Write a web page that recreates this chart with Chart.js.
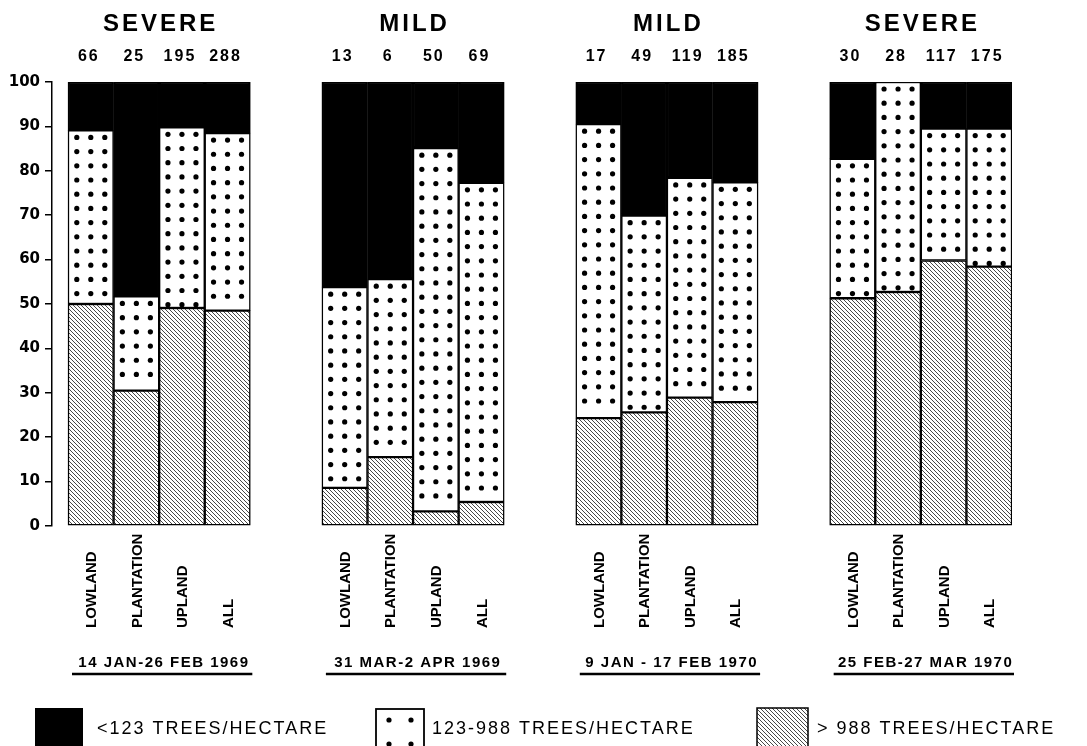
<!DOCTYPE html>
<html>
<head>
<meta charset="utf-8">
<script src="https://cdn.jsdelivr.net/npm/chart.js@4"></script>
<style>
  body { margin: 0; background: #fff; }
  #wrap { width: 1087px; height: 746px; position: relative; }
</style>
</head>
<body>
<div id="wrap"><canvas id="chart"></canvas></div>
<script>
// Data: percent of trees per density class
const categories = ['LOWLAND', 'PLANTATION', 'UPLAND', 'ALL'];
const severity = ['SEVERE', 'MILD', 'MILD', 'SEVERE'];
const periods = ['14 JAN-26 FEB 1969', '31 MAR-2 APR 1969', '9 JAN - 17 FEB 1970', '25 FEB-27 MAR 1970'];
const sampleSizes = [66, 25, 195, 288, 13, 6, 50, 69, 17, 49, 119, 185, 30, 28, 117, 175];

// > 988 trees/hectare (hatched)
const dense = [50.0, 30.5, 49.1, 48.5, 8.6, 15.5, 3.3, 5.4, 24.3, 25.6, 28.9, 27.9, 51.3, 52.7, 59.8, 58.4];
// 123-988 trees/hectare (dotted)
const medium = [39.1, 21.2, 40.7, 40.0, 45.2, 40.1, 81.8, 71.9, 66.2, 44.3, 49.5, 49.5, 31.4, 47.3, 29.7, 31.1];
// < 123 trees/hectare (black)
const sparse = [10.9, 48.3, 10.2, 11.5, 46.2, 44.4, 14.9, 22.7, 9.5, 30.1, 21.6, 22.6, 17.3, 0, 10.5, 10.5];

const legendLabels = ['<123 TREES/HECTARE', '123-988 TREES/HECTARE', '> 988 TREES/HECTARE'];
const yMax = 100;
const yStep = 10;

const GROUP_STEP = 5.57; // distance between group starts, in bar widths
const xOf = k => Math.floor(k / 4) * GROUP_STEP + (k % 4);

function hatchPattern(ctx) {
    const c = document.createElement('canvas');
    c.width = c.height = 4;
    const g = c.getContext('2d');
    g.fillStyle = '#fff';
    g.fillRect(0, 0, 4, 4);
    g.strokeStyle = '#333';
    g.lineWidth = 0.9;
    g.beginPath();
    g.moveTo(-1, -1); g.lineTo(5, 5);
    g.moveTo(-1, 3); g.lineTo(1, 5);
    g.moveTo(3, -1); g.lineTo(5, 1);
    g.stroke();
    return ctx.createPattern(c, 'repeat');
}

const canvas = document.getElementById('chart');
const ctx = canvas.getContext('2d');
const hatch = hatchPattern(ctx);

function drawDots(g, x, top, bottom, cols, step) {
    g.fillStyle = '#000';
    for (let r = top + 7; r < bottom - 3; r += step) {
        cols.forEach(dx => {
            g.beginPath();
            g.arc(x + dx, r, 2.6, 0, Math.PI * 2);
            g.fill();
        });
    }
}

const dotsPlugin = {
    id: 'dots',
    afterDatasetsDraw(chart) {
        const g = chart.ctx;
        g.save();
        chart.getDatasetMeta(1).data.forEach(bar => {
            const p = bar.getProps(['x', 'y', 'base'], true);
            drawDots(g, p.x, p.y, p.base, [-14, 0, 14], 14.2);
        });
        g.restore();
    }
};

function spaced(g, text, x, y, spacing) {
    if ('letterSpacing' in g) {
        g.letterSpacing = spacing + 'px';
        const shift = g.textAlign === 'center' ? spacing / 2 : 0;
        g.fillText(text, x + shift, y);
        g.letterSpacing = '0px';
    } else {
        g.fillText(text, x, y);
    }
}

const textPlugin = {
    id: 'texts',
    afterDraw(chart) {
        const g = chart.ctx;
        const xs = chart.scales.x;
        const area = chart.chartArea;
        g.save();
        g.fillStyle = '#000';
        g.strokeStyle = '#000';

        severity.forEach((s, gi) => {
            const left = xs.getPixelForValue(gi * GROUP_STEP - 0.5);
            const right = xs.getPixelForValue(gi * GROUP_STEP + 3.5);
            const mid = (left + right) / 2;

            g.font = 'bold 24px "Liberation Sans", Arial, sans-serif';
            g.textAlign = 'center';
            g.textBaseline = 'middle';
            spaced(g, s, mid, area.top - 58, 3);

            // period label with underline
            g.font = 'bold 15px "Liberation Sans", Arial, sans-serif';
            g.textBaseline = 'alphabetic';
            spaced(g, periods[gi], mid + 4, area.bottom + 141, 1.5);
            g.lineWidth = 2.5;
            g.beginPath();
            g.moveTo(left + 4, area.bottom + 148);
            g.lineTo(right + 2, area.bottom + 148);
            g.stroke();
        });

        sampleSizes.forEach((n, k) => {
            const px = xs.getPixelForValue(xOf(k));
            g.font = 'bold 16px "Liberation Sans", Arial, sans-serif';
            g.textAlign = 'center';
            g.textBaseline = 'middle';
            spaced(g, String(n), px - 3, area.top - 25, 2);

            // rotated category label, bottom aligned
            g.save();
            g.translate(px + 1, area.bottom + 102);
            g.rotate(-Math.PI / 2);
            g.textAlign = 'left';
            g.textBaseline = 'middle';
            g.font = 'bold 15px "Liberation Sans", Arial, sans-serif';
            g.fillText(categories[k % 4], 0, 0);
            g.restore();
        });

        // legend
        const ly = 708;
        g.fillRect(35, ly, 48, 40);
        g.lineWidth = 1.8;
        g.strokeRect(376, ly + 1, 48, 40);
        drawDots(g, 400, ly + 5, ly + 48, [-11, 11], 24);
        g.fillStyle = hatch;
        g.fillRect(757, ly, 51, 40);
        g.fillStyle = '#000';
        g.lineWidth = 1.5;
        g.beginPath();
        g.moveTo(757, ly + 40); g.lineTo(757, ly); g.lineTo(808, ly); g.lineTo(808, ly + 40);
        g.stroke();

        g.font = '18px "Liberation Sans", Arial, sans-serif';
        g.textAlign = 'left';
        g.textBaseline = 'middle';
        spaced(g, legendLabels[0], 97, 729, 2);
        spaced(g, legendLabels[1], 432, 729, 2);
        spaced(g, legendLabels[2], 817, 729, 2);
        g.restore();
    }
};

const toPoints = arr => arr.map((v, k) => ({ x: xOf(k), y: v }));

new Chart(canvas, {
    type: 'bar',
    data: {
        datasets: [
            { label: legendLabels[2], data: toPoints(dense), backgroundColor: hatch },
            { label: legendLabels[1], data: toPoints(medium), backgroundColor: '#fff' },
            { label: legendLabels[0], data: toPoints(sparse), backgroundColor: '#000' }
        ].map(d => Object.assign(d, {
            stack: 'all',
            borderColor: '#000',
            borderWidth: 1.5,
            borderSkipped: false,
            barPercentage: 1,
            categoryPercentage: 1
        }))
    },
    options: {
        responsive: true,
        maintainAspectRatio: false,
        animation: false,
        layout: { padding: { top: 82, bottom: 220, left: 0, right: 75 } },
        plugins: { legend: { display: false }, tooltip: { enabled: false } },
        scales: {
            x: {
                type: 'linear',
                display: false,
                stacked: true,
                offset: false,
                min: -0.5 - 16 / 45.58,
                max: 3 * GROUP_STEP + 3.5
            },
            y: {
                stacked: true,
                min: 0,
                max: yMax,
                ticks: {
                    stepSize: yStep,
                    color: '#000',
                    padding: 5,
                    font: { family: '"DejaVu Sans"', weight: 'bold', size: 15 }
                },
                grid: { drawOnChartArea: false, tickLength: 7, color: '#000', lineWidth: 1.5 },
                border: { display: true, color: '#000', width: 1.5 },
                afterFit(scale) { scale.width = 52; }
            }
        }
    },
    plugins: [dotsPlugin, textPlugin]
});
</script>
</body>
</html>
